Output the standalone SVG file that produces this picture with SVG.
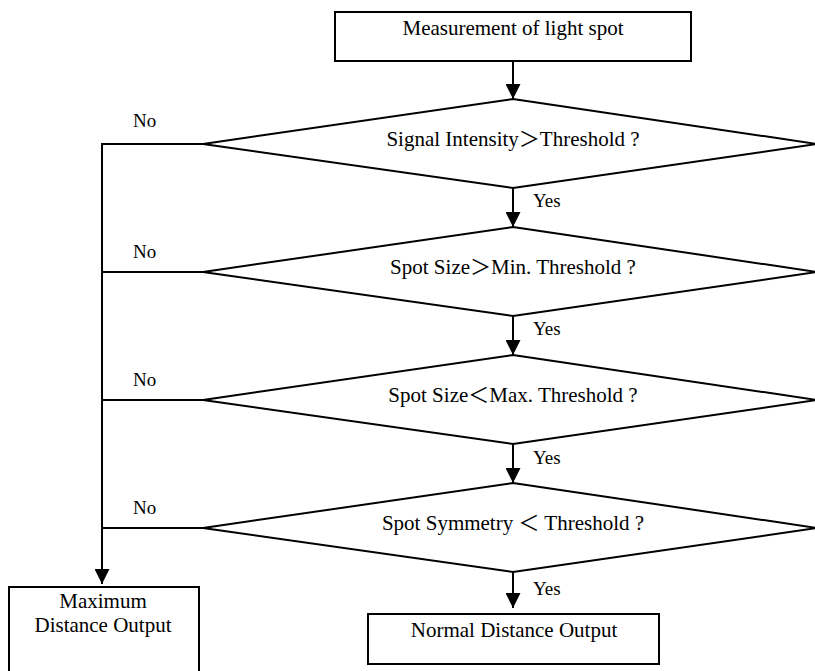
<svg xmlns="http://www.w3.org/2000/svg" width="815" height="671" viewBox="0 0 815 671">
<defs>
<style>
.box{fill:#fff;stroke:#000;stroke-width:2}
.dia{fill:#fff;stroke:#000;stroke-width:2;stroke-linejoin:miter}
.ln{fill:none;stroke:#000;stroke-width:2}
.t{font-family:"Liberation Serif","Noto Sans CJK SC",serif;font-size:21px;fill:#000}
.c{text-anchor:middle}
.lab{font-family:"Liberation Serif",serif;font-size:19px;fill:#000}
</style>
<marker id="ah" viewBox="0 0 10 10" refX="10" refY="5" markerWidth="7.5" markerHeight="7.5" markerUnits="strokeWidth" orient="auto">
<path d="M0,0 L10,5 L0,10 z" fill="#000"/>
</marker>
</defs>
<rect width="815" height="671" fill="#fff"/>
<g id="connectors">
<line class="ln" x1="513" y1="61" x2="513" y2="99" marker-end="url(#ah)"/>
<line class="ln" x1="513" y1="188" x2="513" y2="227" marker-end="url(#ah)"/>
<line class="ln" x1="513" y1="316" x2="513" y2="355" marker-end="url(#ah)"/>
<line class="ln" x1="513" y1="444" x2="513" y2="483" marker-end="url(#ah)"/>
<line class="ln" x1="513" y1="572" x2="513" y2="608" marker-end="url(#ah)"/>
<polyline class="ln" points="203,144 102,144 102,584" marker-end="url(#ah)"/>
<line class="ln" x1="102" y1="272" x2="203" y2="272" stroke-width="1.5"/>
<line class="ln" x1="102" y1="400" x2="203" y2="400" stroke-width="1.5"/>
<line class="ln" x1="102" y1="528" x2="203" y2="528" stroke-width="1.5"/>
<text class="lab" x="133" y="127">No</text>
<text class="lab" x="133" y="258">No</text>
<text class="lab" x="133" y="386">No</text>
<text class="lab" x="133" y="514">No</text>
<text class="lab" x="533" y="207">Yes</text>
<text class="lab" x="533" y="335">Yes</text>
<text class="lab" x="533" y="464">Yes</text>
<text class="lab" x="533" y="595">Yes</text>
</g>
<g id="start">
<rect class="box" x="335" y="12" width="356" height="49"/>
<text class="t c" x="513" y="35">Measurement of light spot</text>
</g>
<g id="d1">
<polygon class="dia" points="513,99 817,144 513,188 203,144"/>
<text class="t c" x="513" y="146">Signal Intensity＞Threshold ?</text>
</g>
<g id="d2">
<polygon class="dia" points="513,227 817,272 513,316 203,272"/>
<text class="t c" x="513" y="274">Spot Size＞Min. Threshold ?</text>
</g>
<g id="d3">
<polygon class="dia" points="513,355 817,400 513,444 203,400"/>
<text class="t c" x="513" y="402">Spot Size＜Max. Threshold ?</text>
</g>
<g id="d4">
<polygon class="dia" points="513,483 817,528 513,572 203,528"/>
<text class="t c" x="513" y="530">Spot Symmetry ＜ Threshold ?</text>
</g>
<g id="normal">
<rect class="box" x="368" y="614" width="291" height="50"/>
<text class="t c" x="514" y="637">Normal Distance Output</text>
</g>
<g id="maximum">
<rect class="box" x="9" y="587" width="190" height="100"/>
<text class="t c" x="103" y="608">Maximum</text>
<text class="t c" x="103" y="632">Distance Output</text>
</g>
</svg>
